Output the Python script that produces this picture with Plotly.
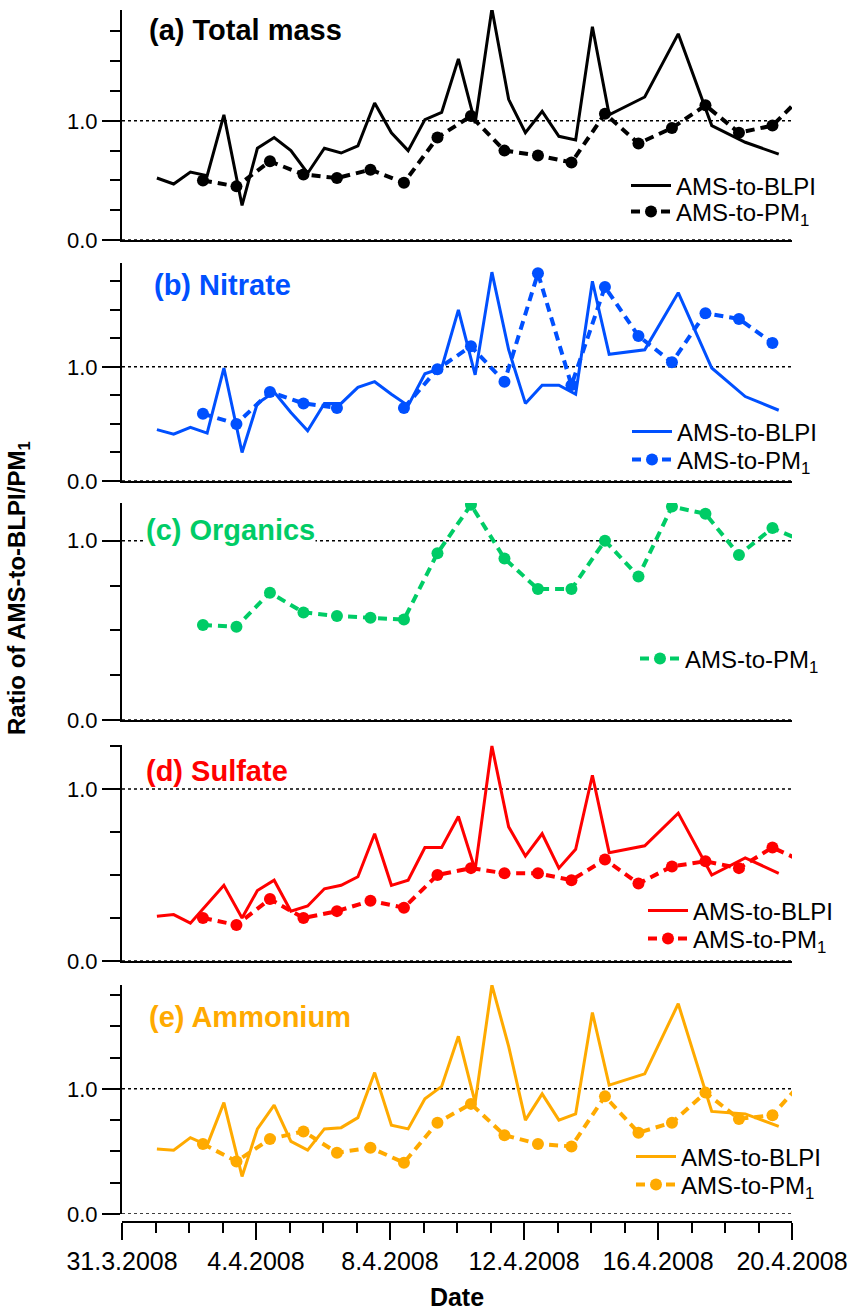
import plotly.graph_objects as go

# ---- data -------------------------------------------------------------
blpi_time = [
    "2008-04-01 01:00", "2008-04-01 13:00", "2008-04-02 01:00", "2008-04-02 13:00",
    "2008-04-03 01:00", "2008-04-03 14:00", "2008-04-04 01:00", "2008-04-04 13:00",
    "2008-04-05 01:00", "2008-04-05 13:00", "2008-04-06 01:00", "2008-04-06 13:00",
    "2008-04-07 01:00", "2008-04-07 13:00", "2008-04-08 01:00", "2008-04-08 13:00",
    "2008-04-09 01:00", "2008-04-09 13:00", "2008-04-10 01:00", "2008-04-10 13:00",
    "2008-04-11 01:00", "2008-04-11 13:00", "2008-04-12 01:00", "2008-04-12 13:00",
    "2008-04-13 01:00", "2008-04-13 13:00", "2008-04-14 01:00", "2008-04-14 13:00",
    "2008-04-15 14:30", "2008-04-16 14:30", "2008-04-17 14:30", "2008-04-18 14:30",
    "2008-04-19 14:30",
]
pm1_time = [
    "2008-04-02 10:00", "2008-04-03 10:00", "2008-04-04 10:00", "2008-04-05 10:00",
    "2008-04-06 10:00", "2008-04-07 10:00", "2008-04-08 10:00", "2008-04-09 10:00",
    "2008-04-10 10:00", "2008-04-11 10:00", "2008-04-12 10:00", "2008-04-13 10:00",
    "2008-04-14 10:00", "2008-04-15 10:00", "2008-04-16 10:00", "2008-04-17 10:00",
    "2008-04-18 10:00", "2008-04-19 10:00", "2008-04-20 10:00",
]

total_blpi = [0.52, 0.47, 0.57, 0.54, 1.05, 0.29, 0.77, 0.86, 0.75, 0.56, 0.77, 0.73,
              0.79, 1.15, 0.90, 0.75, 1.01, 1.07, 1.52, 0.98, 1.94, 1.18, 0.90, 1.08,
              0.87, 0.84, 1.79, 1.05, 1.20, 1.73, 0.96, 0.82, 0.72]
total_pm1 = [0.50, 0.45, 0.66, 0.55, 0.52, 0.59, 0.48, 0.86, 1.04, 0.75, 0.71, 0.65,
             1.06, 0.81, 0.94, 1.13, 0.90, 0.96, 1.24]

nitrate_blpi = [0.45, 0.41, 0.47, 0.42, 0.99, 0.25, 0.68, 0.78, 0.60, 0.44, 0.68, 0.68,
                0.82, 0.87, 0.76, 0.66, 0.94, 0.99, 1.50, 0.93, 1.83, 1.15, 0.68, 0.84,
                0.84, 0.76, 1.75, 1.11, 1.15, 1.65, 0.99, 0.74, 0.62]
nitrate_pm1 = [0.59, 0.50, 0.78, 0.68, 0.64, None, 0.64, 0.98, 1.18, 0.87, 1.82, 0.84,
               1.70, 1.27, 1.04, 1.47, 1.42, 1.21, None]

organics_pm1 = [0.53, 0.52, 0.71, 0.60, 0.58, 0.57, 0.56, 0.93, 1.20, 0.90, 0.73, 0.73,
                1.00, 0.80, 1.19, 1.15, 0.92, 1.07, 0.99]

sulfate_blpi = [0.26, 0.27, 0.22, 0.33, 0.44, 0.25, 0.41, 0.47, 0.29, 0.32, 0.42, 0.44,
                0.49, 0.74, 0.44, 0.47, 0.66, 0.66, 0.84, 0.53, 1.25, 0.78, 0.61, 0.74,
                0.54, 0.65, 1.08, 0.63, 0.67, 0.86, 0.50, 0.60, 0.51]
sulfate_pm1 = [0.25, 0.21, 0.36, 0.25, 0.29, 0.35, 0.31, 0.50, 0.54, 0.51, 0.51, 0.47,
               0.59, 0.45, 0.55, 0.58, 0.54, 0.66, 0.57]

ammonium_blpi = [0.52, 0.51, 0.61, 0.55, 0.89, 0.30, 0.68, 0.87, 0.58, 0.51, 0.68, 0.69,
                 0.77, 1.13, 0.71, 0.68, 0.92, 1.02, 1.42, 0.89, 1.83, 1.34, 0.75, 0.96,
                 0.75, 0.80, 1.61, 1.03, 1.12, 1.68, 0.82, 0.80, 0.70]
ammonium_pm1 = [0.56, 0.42, 0.60, 0.66, 0.49, 0.53, 0.41, 0.73, 0.88, 0.63, 0.56, 0.54,
                0.94, 0.65, 0.73, 0.97, 0.76, 0.79, 1.09]

panel_titles = ["(a) Total mass", "(b) Nitrate", "(c) Organics", "(d) Sulfate", "(e) Ammonium"]
panel_colors = ["#000000", "#0050ff", "#00cc66", "#ff0000", "#ffaa00"]
panel_ymax = [1.93, 1.91, 1.21, 1.256, 1.83]

date_ticks = ["2008-03-31", "2008-04-04", "2008-04-08", "2008-04-12", "2008-04-16", "2008-04-20"]
date_labels = ["31.3.2008", "4.4.2008", "8.4.2008", "12.4.2008", "16.4.2008", "20.4.2008"]

blpi_series = [total_blpi, nitrate_blpi, None, sulfate_blpi, ammonium_blpi]
pm1_series = [total_pm1, nitrate_pm1, organics_pm1, sulfate_pm1, ammonium_pm1]

# ---- layout geometry (pixels of the 848 x 1311 page) ------------------
W, H = 848, 1311
M_L, M_R, M_T, M_B = 122, 56, 10, 89
PLOT_H = H - M_T - M_B
BOTTOM = H - M_B


def py(p):
    """page pixel row -> paper fraction"""
    return (BOTTOM - p) / PLOT_H


def px(p):
    return (p - M_L) / (W - M_L - M_R)


panel_px = [(10, 240), (263, 481), (503, 720), (745, 961), (985, 1214)]
title_px = [(148, 30), (153, 285), (145, 530), (145, 771), (148, 1017)]
# legend placement per panel: left edge of the entry text, rows for BLPI / PM1
legend_text_x = [676, 677, 685, 693, 681]
legend_rows = [(186, 212), (432, 460), (None, 659), (911, 939), (1157, 1185)]
LEGEND_TEXT_OFFSET = 50

FONT = "Liberation Sans, Arial, Helvetica, sans-serif"
XRANGE = ["2008-03-31 00:00", "2008-04-20 00:00"]

fig = go.Figure()
layout = dict(
    width=W, height=H,
    margin=dict(l=M_L, r=M_R, t=M_T, b=M_B, autoexpand=False),
    paper_bgcolor="white", plot_bgcolor="white",
    font=dict(family=FONT, size=22, color="black"),
    showlegend=True,
)
shapes, annotations = [], []
legend_count = 0


def new_legend(x_text, y_row):
    global legend_count
    legend_count += 1
    name = "legend" if legend_count == 1 else "legend%d" % legend_count
    layout[name] = dict(
        x=px(x_text - LEGEND_TEXT_OFFSET), y=py(y_row), xref="paper", yref="paper",
        xanchor="left", yanchor="middle", bgcolor="rgba(0,0,0,0)",
        font=dict(size=24, color="black"), itemwidth=40,
    )
    return name


for i in range(5):
    n = i + 1
    sfx = "" if n == 1 else str(n)
    xa, ya = "x" + sfx, "y" + sfx
    color = panel_colors[i]
    row_blpi, row_pm1 = legend_rows[i]

    if blpi_series[i] is not None:
        fig.add_trace(go.Scatter(
            x=blpi_time, y=blpi_series[i], xaxis=xa, yaxis=ya,
            mode="lines", line=dict(color=color, width=3),
            name="AMS-to-BLPI", legend=new_legend(legend_text_x[i], row_blpi),
        ))
    fig.add_trace(go.Scatter(
        x=pm1_time, y=pm1_series[i], xaxis=xa, yaxis=ya,
        mode="lines+markers", connectgaps=False,
        line=dict(color=color, width=4, dash="9px,6px"),
        marker=dict(color=color, size=12, symbol="circle"),
        name="AMS-to-PM<sub>1</sub>", legend=new_legend(legend_text_x[i], row_pm1),
    ))

    top, bot = panel_px[i]
    ymax = panel_ymax[i]
    minor_vals = [v / 4 for v in range(1, 8) if v / 4 <= ymax + 1e-9 and v != 4]

    layout["yaxis" + sfx] = dict(
        domain=[py(bot), py(top)], range=[0, ymax], anchor=xa, automargin=False,
        showline=True, linewidth=2, linecolor="black",
        ticks="outside", ticklen=18, tickwidth=2, tickcolor="black",
        tickvals=[0, 1], ticktext=["0.0", "1.0"],
        minor=dict(tickvals=minor_vals, ticks="outside", ticklen=10, tickwidth=2, tickcolor="black"),
        showgrid=False, zeroline=False, fixedrange=True,
        tickfont=dict(size=22),
    )
    xcfg = dict(
        type="date", range=XRANGE, domain=[0, 1], automargin=False,
        showgrid=False, zeroline=False, showline=True, linecolor="black",
    )
    if n < 5:
        xcfg.update(anchor=ya, matches="x5", linewidth=1.5, ticks="", showticklabels=False)
    else:
        xcfg.update(
            anchor="free", position=0, linewidth=2,
            ticks="outside", ticklen=17, tickwidth=2, tickcolor="black",
            tickvals=date_ticks, ticktext=date_labels,
            tickfont=dict(size=25),
            minor=dict(dtick=86400000, ticks="outside", ticklen=10, tickwidth=2, tickcolor="black"),
            title=dict(text="<b>Date</b>", font=dict(size=25), standoff=18),
        )
    layout["xaxis" + sfx] = xcfg

    # dotted reference lines at ratio 0 and 1
    for yv in (0, 1):
        shapes.append(dict(
            type="line", xref="paper", yref=ya, x0=0, x1=1, y0=yv, y1=yv,
            line=dict(color="black", width=1.5, dash="dot"), layer="below",
        ))

    tx, ty = title_px[i]
    annotations.append(dict(
        text="<b>" + panel_titles[i] + "</b>", xref="paper", yref="paper",
        x=px(tx), y=py(ty), xanchor="left", yanchor="middle", showarrow=False,
        font=dict(size=29, color=color), bgcolor="white", borderpad=0,
    ))

annotations.append(dict(
    text="<b>Ratio of AMS-to-BLPI/PM<sub>1</sub></b>", xref="paper", yref="paper",
    x=px(18), y=py(588), xanchor="center", yanchor="middle", textangle=-90,
    showarrow=False, font=dict(size=24),
))

layout["shapes"] = shapes
layout["annotations"] = annotations
fig.update_layout(**layout)

fig.write_html("out.html")
